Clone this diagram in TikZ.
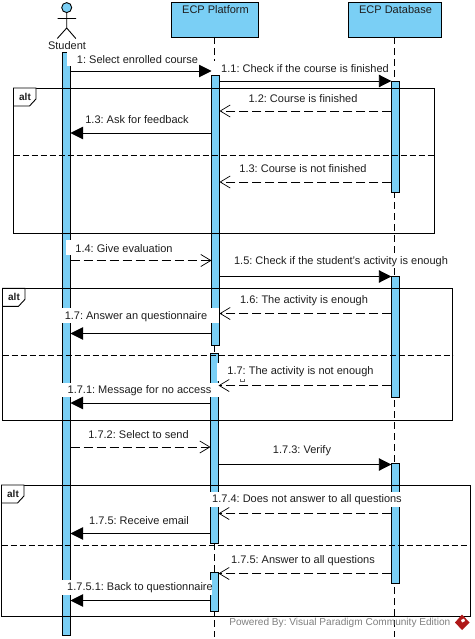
\documentclass[tikz,border=0pt]{standalone}
\usepackage{fontspec}
\setmainfont{Liberation Sans}
\usetikzlibrary{arrows.meta}
\definecolor{barblue}{RGB}{122,207,245}
\definecolor{inkc}{RGB}{30,30,30}
\frenchspacing
\tikzset{
  x=1pt,y=-1pt,
  lifeline/.style={draw=black,line width=0.9pt,dash pattern=on 7pt off 4pt},
  bar/.style={draw=black,fill=barblue,line width=0.9pt},
  headbox/.style={draw=black,fill=barblue,line width=0.9pt,anchor=north,inner sep=0pt,minimum height=34.5pt},
  headtext/.style={text=inkc,inner sep=0pt,font=\fontsize{11}{13}\selectfont},
  frame/.style={draw=black,line width=0.9pt},
  divider/.style={draw=black,line width=0.9pt,dash pattern=on 6pt off 3pt},
  sync/.style={draw=black,line width=0.9pt,-{Triangle[length=12.5pt,width=12.5pt]}},
  reply/.style={draw=black,line width=0.9pt,dash pattern=on 9pt off 4pt,-{Straight Barb[length=10pt,width=12pt,line width=0.7pt]}},
  msg/.style={inner sep=0pt,text=inkc,font=\fontsize{11}{13}\selectfont},
  alttag/.style={font=\bfseries\fontsize{10}{12}\selectfont,inner sep=0pt,text=inkc},
  footer/.style={font=\fontsize{10.1}{12}\selectfont,text=black!50,inner sep=0pt}
}
\newcommand{\altframe}[6]{% name x1 x2 y1 y2 ydiv
  \draw[frame] (#2,#4) rectangle (#3,#5);
  \draw[divider] (#2,#6) -- (#3,#6);
  \draw[frame,fill=white] (#2,#4) -- (#2+22.5,#4) -- (#2+22.5,#4+11) -- (#2+16,#4+18) -- (#2,#4+18) -- cycle;
  \node[alttag] (#1) at (#2+11.5,#4+8.5) {alt};
}
\begin{document}
\begin{tikzpicture}
\useasboundingbox (0,0) rectangle (474,639);
\fill[white] (0,0) rectangle (474,639);

% lifelines
\node[headbox,minimum width=87.5pt] (platform) at (214.75,2.5) {};
\node[headbox,minimum width=93pt] (database) at (394.75,2.5) {};
\node[headtext] (platformt) at (215.5,10) {ECP Platform};
\node[headtext] (databaset) at (395.5,10) {ECP Database};
\coordinate (platformend) at (214.5,637);
\coordinate (databaseend) at (394.5,637);
\draw[lifeline] (214.5,37) -- (platformend);
\draw[lifeline] (394.5,37) -- (databaseend);

% actor
\draw[draw=black,fill=barblue,line width=0.9pt] (66.7,7.6) circle (5);
\draw[black,line width=0.9pt] (66.7,12.6) -- (66.7,28) (57.5,18.5) -- (76,18.5) (57.3,38.5) -- (66.7,28) -- (75.8,38.5);
\node[headtext] (student) at (67,45.5) {Student};

% activation bars
\draw[bar] (62.5,52) rectangle (70.5,635);
\draw[bar] (211.5,75) rectangle (219.5,345);
\draw[bar] (210.5,353.5) rectangle (218.5,543);
\draw[bar] (210.5,572.5) rectangle (218.5,611);
\draw[bar] (391.3,81) rectangle (399.3,192);
\draw[bar] (391.3,276) rectangle (399.3,397);
\draw[bar] (391.3,463.5) rectangle (399.3,583);

% frames
\altframe{alta}{13.5}{434.5}{88}{233.5}{155}
\altframe{altb}{2.5}{452.5}{288.3}{420.3}{355.3}
\altframe{altc}{1.5}{470.5}{485}{616}{545.5}

% label backgrounds that mask bars and lifelines
\fill[white] (66.7,52) rectangle (200,66);
\fill[white] (212,61) rectangle (390,75);
\fill[white] (65.7,240) rectangle (174,255);
\fill[white] (228,254) rectangle (453,268);
\fill[white] (62,308) rectangle (219,323);
\fill[white] (217.3,363) rectangle (375,381);
\fill[white] (62,383) rectangle (219,397);
\fill[white] (210,492) rectangle (400,507);
\fill[white] (62,580) rectangle (212,595);

% anchors on activation bars
\foreach \n/\xx/\yy in {
  a1/70.5/71, b1/211.5/71,
  a2/219.5/81, b2/391.3/81,
  a3/391.3/111, b3/219.5/111,
  a4/211.5/133, b4/70.5/133,
  a5/391.3/182, b5/219.5/182,
  a6/70.5/260.5, b6/211.5/260.5,
  a7/219.5/276.5, b7/391.3/276.5,
  a8/391.3/313.5, b8/219.5/313.5,
  a9/211.5/333.5, b9/70.5/333.5,
  a10/391.3/385.5, b10/218.5/385.5,
  a11/210.5/403, b11/70.5/403,
  a12/70.5/447, b12/210.5/447,
  a13/218.5/464.5, b13/391.3/464.5,
  a14/391.3/513.5, b14/218.5/513.5,
  a15/210.5/533.5, b15/70.5/533.5,
  a16/391.3/573.5, b16/218.5/573.5,
  a17/210.5/600.5, b17/70.5/600.5}
  {\coordinate (\n) at (\xx,\yy);}

% messages
\draw[sync] (a1) -- (b1);
\draw[sync] (a2) -- (b2);
\draw[reply] (a3) -- (b3);
\draw[sync] (a4) -- (b4);
\draw[reply] (a5) -- (b5);
\draw[reply] (a6) -- (b6);
\draw[sync] (a7) -- (b7);
\draw[reply] (a8) -- (b8);
\draw[sync] (a9) -- (b9);
\draw[reply] (a10) -- (b10);
\draw[sync] (a11) -- (b11);
\draw[reply] (a12) -- (b12);
\draw[sync] (a13) -- (b13);
\draw[reply] (a14) -- (b14);
\draw[sync] (a15) -- (b15);
\draw[reply] (a16) -- (b16);
\draw[sync] (a17) -- (b17);

% labels
\node[msg] (l1) at (137.5,60) {1: Select enrolled course};
\node[msg] (l2) at (305,68.5) {1.1: Check if the course is finished};
\node[msg] (l3) at (303,98.5) {1.2: Course is finished};
\node[msg] (l4) at (137,119.5) {1.3: Ask for feedback};
\node[msg] (l5) at (303,168.5) {1.3: Course is not finished};
\node[msg] (l6) at (124,248.5) {1.4: Give evaluation};
\node[msg] (l7) at (341,261.5) {1.5: Check if the student's activity is enough};
\node[msg] (l8) at (304,300.5) {1.6: The activity is enough};
\node[msg] (l9) at (136,316.5) {1.7: Answer an questionnaire};
\node[msg] (l10) at (300.5,371.5) {1.7: The activity is not enough};
\node[msg] (l11) at (139.5,390.5) {1.7.1: Message for no access};
\node[msg] (l12) at (138.5,434.5) {1.7.2: Select to send};
\node[msg] (l13) at (302,451) {1.7.3: Verify};
\node[msg] (l14) at (307,500) {1.7.4: Does not answer to all questions};
\node[msg] (l15) at (139,520.5) {1.7.5: Receive email};
\node[msg] (l16) at (303,560.5) {1.7.5: Answer to all questions};
\node[msg] (l17) at (140,588) {1.7.5.1: Back to questionnaire};
\draw[black!60,line width=0.4pt] (240.5,379) -- (240.5,381.5) -- (244.5,381.5) -- (244.5,379);

% footer
\node[footer,anchor=east] (powered) at (450.5,622.5) {Powered By: Visual Paradigm Community Edition};
\fill[red!65!black!90] (462,614.5) -- (469.5,622.5) -- (462,630) -- (455,622.5) -- cycle;
\fill[white] (461,620) -- (464,618.5) -- (465,621) -- (462,622.5) -- cycle;
\end{tikzpicture}
\end{document}
